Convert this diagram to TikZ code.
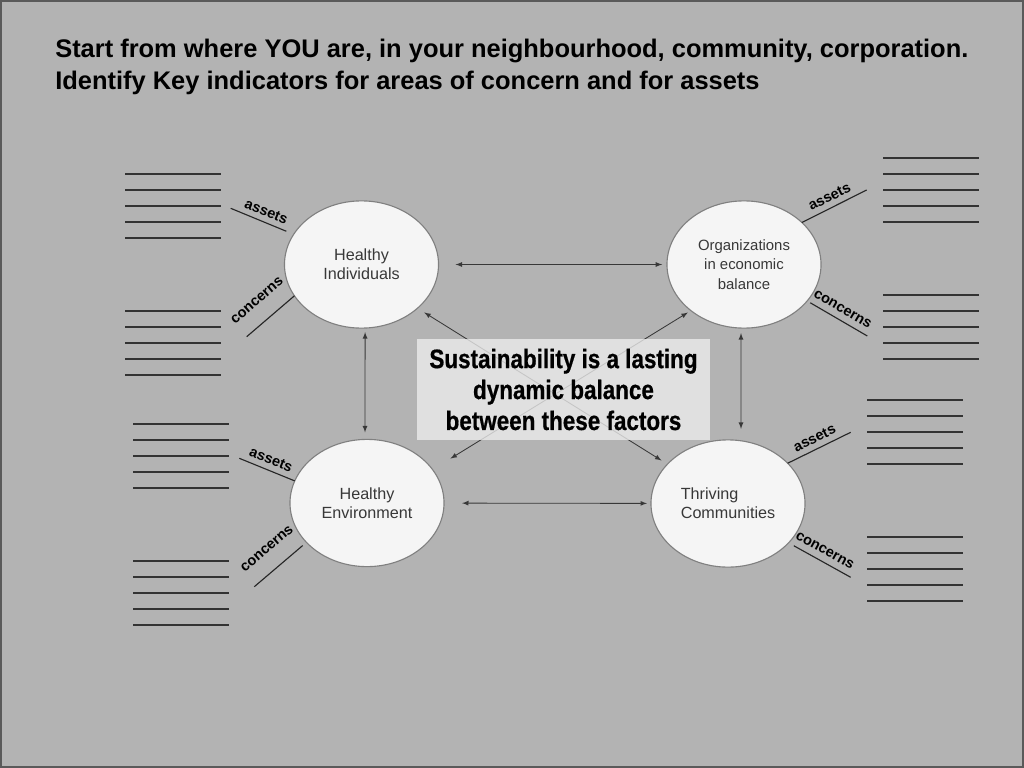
\documentclass[tikz,border=0pt]{standalone}
\usepackage{fontspec}
\setmainfont{Liberation Sans}
\newfontfamily\boxfont[FakeStretch=0.84, FakeBold=0.6]{Liberation Sans}
\usetikzlibrary{shapes.geometric}

\definecolor{slide}{HTML}{B3B3B3}
\definecolor{frame}{HTML}{5A5A5A}
\definecolor{bubble}{HTML}{F5F5F5}
\definecolor{ring}{HTML}{808080}
\definecolor{ink}{HTML}{383838}
\definecolor{panel}{HTML}{EDEDED}

\tikzset{
  factor/.style={ellipse, draw=ring, fill=bubble, line width=0.8pt, inner sep=0pt, outer sep=0pt,
    minimum width=3.85cm, minimum height=3.18cm, text=ink, align=center,
    font=\fontsize{11.5}{13.7}\selectfont},
  link/.style={<->, >=latex, draw=ink, line width=0.6pt},
  tick/.style={draw=black!85, line width=0.8pt},
  tag/.style={font=\bfseries\fontsize{10.3}{12}\selectfont, inner sep=0pt, sloped, midway},
  blank/.style={draw=black!80, line width=1.2pt},
}

\begin{document}
\begin{tikzpicture}[x=0.025cm, y=-0.025cm]

    % slide background and frame
    \useasboundingbox (0,0) rectangle (1024,768);
    \fill[slide] (0,0) rectangle (1024,768);
    \draw[frame, line width=1.5pt] (1,1) rectangle (1023,767);

    % heading
    \node[anchor=north west, align=left, inner sep=0pt,
          font=\bfseries\fontsize{18.1}{22.7}\selectfont] (head) at (55,39)
        {Start from where YOU are, in your neighbourhood, community, corporation.\\
         Identify Key indicators for areas of concern and for assets};

    % the four factors
    \node[factor] (hi) at (361.5,264.5) {Healthy\\Individuals};
    \node[factor, font=\fontsize{10.6}{14}\selectfont] (oi) at (744,264.5) {Organizations\\in economic\\balance};
    \node[factor] (he) at (367,503) {Healthy\\Environment};
    \node[factor, align=left] (tc) at (728,503.5) {Thriving\\Communities};

    % arrows between the factors
    \draw[link, shorten <=0.425cm, shorten >=0.12cm] (hi) -- (oi);
    \draw[link, shorten <=0.45cm, shorten >=0.1cm] (he) -- (tc);
    \draw[link, shorten <=0.1cm, shorten >=0.175cm] ([xshift=0.09cm]hi.south) -- ([xshift=-0.05cm]he.north);
    \draw[link, shorten <=0.125cm, shorten >=0.275cm] ([xshift=-0.075cm]oi.south) -- ([xshift=0.325cm]tc.north);
    \draw[link, shorten <=0.2cm, shorten >=0.175cm] (hi.-38) -- (tc.147);
    \draw[link, shorten <=0.525cm, shorten >=0.09cm] (he.27) -- (oi.221);

    % centre statement
    \node[fill=panel, fill opacity=0.78, text opacity=1, inner sep=0pt,
          minimum width=7.325cm, minimum height=2.525cm, align=center,
          font=\boxfont\bfseries\fontsize{19}{22}\selectfont] (msg) at (563.5,389.5)
        {Sustainability is a lasting\\dynamic balance\\between these factors};

    % outer ends of the assets / concerns strokes
    \coordinate (hiA) at (230.7,208.3);
    \coordinate (hiC) at (246.7,336.7);
    \coordinate (heA) at (239.3,458.3);
    \coordinate (heC) at (254.3,586.7);
    \coordinate (oiA) at (866.7,190);
    \coordinate (oiC) at (867.3,336);
    \coordinate (tcA) at (850.7,432.3);
    \coordinate (tcC) at (850.7,577.3);

    % assets / concerns strokes
    \draw[tick, shorten <=0.2cm] (hi.156) -- node[tag, above=3.8pt] {assets} (hiA);
    \draw[tick] (hi.205) -- node[tag, above=11.5pt] {concerns} (hiC);
    \draw[tick] (he.163) -- node[tag, above=3.8pt] {assets} (heA);
    \draw[tick, shorten <=0.125cm] (he.213) -- node[tag, above=11.5pt] {concerns} (heC);
    \draw[tick] (oi.36) -- node[tag, above=3.8pt] {assets} (oiA);
    \draw[tick, shorten <=0.09cm] (oi.-30) -- node[tag, above=4.4pt] {concerns} (oiC);
    \draw[tick] (tc.34) -- node[tag, above=3.8pt] {assets} (tcA);
    \draw[tick, shorten <=0.15cm] (tc.-33) -- node[tag, above=4.4pt] {concerns} (tcC);

    % blank lines for the indicators
    \foreach \y in {174,190,206,222,238} \draw[blank] (125,\y) -- (221,\y);
    \foreach \y in {311,327,343,359,375} \draw[blank] (125,\y) -- (221,\y);
    \foreach \y in {424,440,456,472,488} \draw[blank] (133,\y) -- (229,\y);
    \foreach \y in {561,577,593,609,625} \draw[blank] (133,\y) -- (229,\y);
    \foreach \y in {158,174,190,206,222} \draw[blank] (883,\y) -- (979,\y);
    \foreach \y in {295,311,327,343,359} \draw[blank] (883,\y) -- (979,\y);
    \foreach \y in {400,416,432,448,464} \draw[blank] (867,\y) -- (963,\y);
    \foreach \y in {537,553,569,585,601} \draw[blank] (867,\y) -- (963,\y);

\end{tikzpicture}
\end{document}
